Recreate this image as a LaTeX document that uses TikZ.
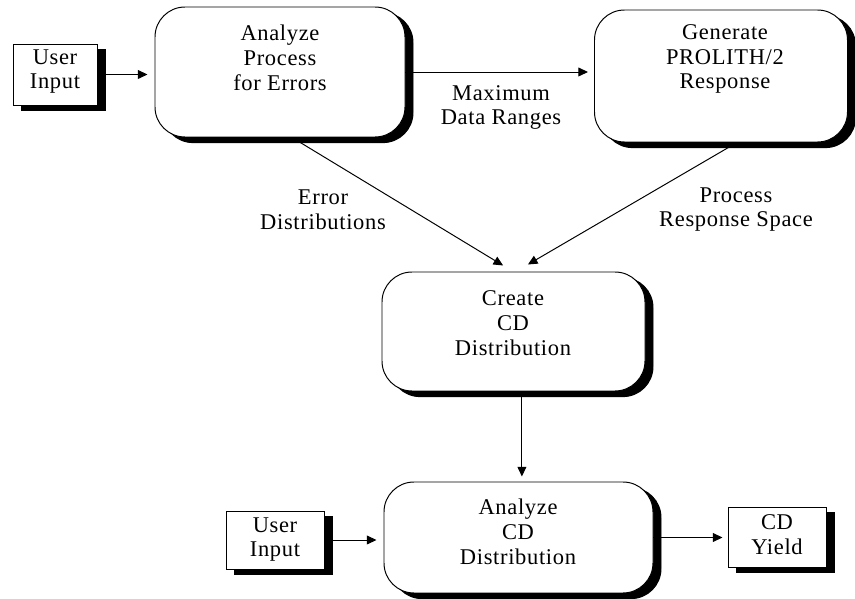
\documentclass[tikz,border=0pt]{standalone}
\usepackage{fontspec}
\setmainfont[LetterSpace=3]{Liberation Serif}
\usetikzlibrary{arrows.meta}

\begin{document}
\begin{tikzpicture}[line width=0.7pt, >={Triangle[length=0.24cm, width=0.22cm]},
    txt/.style={align=center, font=\fontsize{16}{17.7}\selectfont},
    procbox/.style={draw, fill=white, rounded corners=0.75cm},
    inbox/.style={draw, fill=white},
    shade/.style={draw, fill=black, shift={(0.2,-0.14)}}]
      \useasboundingbox (0,0) rectangle (21.375,14.975);

      % Define coordinates
      \coordinate (user_a) at (1.375, 13.1125);
      \coordinate (analyze_c) at (7.0, 13.175);
      \coordinate (generate_c) at (18.025, 13.075);
      \coordinate (create_c) at (12.8375, 6.6875);
      \coordinate (analyze_cd) at (12.9625, 1.5375);
      \coordinate (user_b) at (6.875, 1.475);
      \coordinate (yield_c) at (19.425, 1.55);

      % Shadows behind the boxes
      \node[shade, minimum width=2.1cm, minimum height=1.525cm] at (user_a) {};
      \node[shade, rounded corners=0.75cm, minimum width=6.25cm, minimum height=3.25cm] at (analyze_c) {};
      \node[shade, rounded corners=0.75cm, minimum width=6.325cm, minimum height=3.3cm] at (generate_c) {};
      \node[shade, rounded corners=0.75cm, minimum width=6.575cm, minimum height=2.975cm] at (create_c) {};
      \node[shade, rounded corners=0.75cm, minimum width=6.725cm, minimum height=2.775cm] at (analyze_cd) {};
      \node[shade, minimum width=2.45cm, minimum height=1.45cm] at (user_b) {};
      \node[shade, minimum width=2.45cm, minimum height=1.5cm] at (yield_c) {};

      % Draw the boxes
      \node[inbox, minimum width=2.1cm, minimum height=1.525cm] (userin) at (user_a) {};
      \node[procbox, minimum width=6.25cm, minimum height=3.25cm] (analyze) at (analyze_c) {};
      \node[procbox, minimum width=6.325cm, minimum height=3.3cm] (generate) at (generate_c) {};
      \node[procbox, minimum width=6.575cm, minimum height=2.975cm] (create) at (create_c) {};
      \node[procbox, minimum width=6.725cm, minimum height=2.775cm] (analyzecd) at (analyze_cd) {};
      \node[inbox, minimum width=2.45cm, minimum height=1.45cm] (userin2) at (user_b) {};
      \node[inbox, minimum width=2.45cm, minimum height=1.5cm] (yield) at (yield_c) {};

      % Box texts
      \node[txt] (userin_t) at (1.375, 13.1875) {User\\Input};
      \node[txt] (analyze_t) at (7.0, 13.525) {Analyze\\Process\\for Errors};
      \node[txt] (generate_t) at (18.125, 13.5) {Generate\\PROLITH/2\\Response};
      \node[txt] (create_t) at (12.825, 6.9) {Create\\CD\\Distribution};
      \node[txt] (analyzecd_t) at (12.95, 1.675) {Analyze\\CD\\Distribution};
      \node[txt] (userin2_t) at (6.875, 1.4875) {User\\Input};
      \node[txt] (yield_t) at (19.425, 1.6) {CD\\Yield};

      % Arrow labels
      \node[txt] (maxrange) at (12.525, 12.2875) {Maximum\\Data Ranges};
      \node[txt] (errdist) at (8.075, 9.7375) {Error\\Distributions};
      \node[txt] (respspace) at (18.4, 9.7375) {Process\\Response Space};

      % Draw the arrows
      \draw[->, shorten >=0.175cm] (userin.east) -- (userin.east -| analyze.west);
      \draw[->, shorten >=0.15cm] (analyze.east) -- (analyze.east -| generate.west);
      \draw[->] ([xshift=0.3cm]analyze.south) -- ([xshift=-0.26cm, yshift=0.15cm]create.north);
      \draw[->] ([xshift=0.4cm]generate.south) -- ([xshift=0.36cm, yshift=0.175cm]create.north);
      \draw[->, shorten >=0.125cm] ([xshift=0.21cm]create.south) -- ([xshift=0.21cm]create.south |- analyzecd.north);
      \draw[->, shorten >=0.175cm] (userin2.east) -- (userin2.east -| analyzecd.west);
      \draw[->, shorten >=0.125cm] (analyzecd.east) -- (analyzecd.east -| yield.west);
\end{tikzpicture}
\end{document}
